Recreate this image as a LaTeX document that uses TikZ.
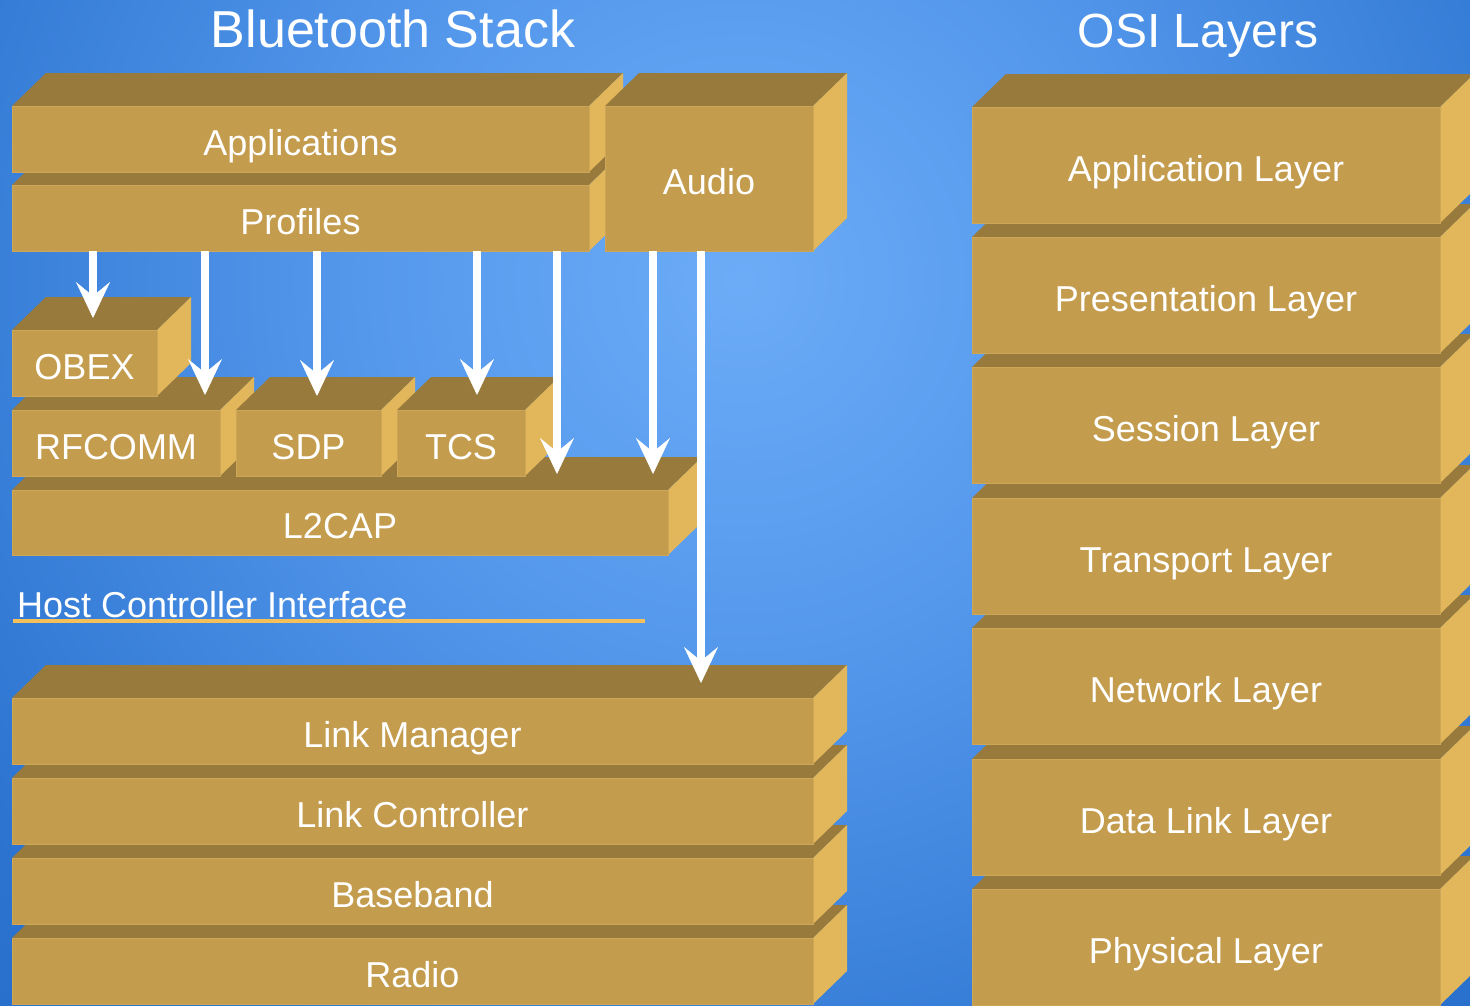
\documentclass[tikz,border=0pt]{standalone}
\usepackage{fontspec}
\setmainfont{Liberation Sans}
\usetikzlibrary{arrows.meta}
\definecolor{frontc}{RGB}{196,156,78}
\definecolor{topc}{RGB}{151,122,60}
\definecolor{sidec}{RGB}{226,182,90}
\definecolor{edgec}{RGB}{206,166,88}
\definecolor{hcic}{RGB}{245,192,90}
\definecolor{bgA}{RGB}{108,172,247}
\definecolor{bgB}{RGB}{84,152,236}
\definecolor{bgC}{RGB}{44,116,208}
\definecolor{bgD}{RGB}{28,94,190}
\pgfdeclareradialshading{bgrad}{\pgfpoint{0bp}{0bp}}{color(0bp)=(bgA); color(5bp)=(bgB); color(12bp)=(bgC); color(21bp)=(bgD); color(50bp)=(bgD)}
\newcommand\bxdx{34}
\newcommand\bxdy{33}
\tikzset{
  topface/.style={fill=topc},
  sideface/.style={fill=sidec},
  blkfront/.style={draw=edgec, line width=1pt, fill=frontc, inner sep=0pt, outer sep=0pt,
    text=white, font=\fontsize{36}{40}\selectfont, text height=32pt, text depth=0pt},
  ttl/.style={text=white, inner sep=0pt, anchor=base},
  hcilbl/.style={text=white, inner sep=0pt, anchor=base west, font=\fontsize{36}{40}\selectfont},
  hciline/.style={draw=hcic, line width=4pt},
  arr/.style={draw=white, line width=8pt, -{Stealth[length=36pt,width=34pt,inset=14pt,line width=0.5pt]}}
}
% #1 name, #2 left x, #3 top y, #4 right x, #5 bottom y, #6 text
\newcommand\boxblk[6]{%
  \fill[topface] (#2,#3) -- ({#2+\bxdx},{#3-\bxdy}) -- ({#4+\bxdx},{#3-\bxdy}) -- (#4,#3) -- cycle;
  \fill[sideface] (#4,#3) -- ({#4+\bxdx},{#3-\bxdy}) -- ({#4+\bxdx},{#5-\bxdy}) -- (#4,#5) -- cycle;
  \node[blkfront, minimum width={(#4-#2)*1pt}, minimum height={(#5-#3)*1pt}] (#1) at ({(#2+#4)/2},{(#3+#5)/2}) {#6};
}
\begin{document}
\begin{tikzpicture}[x=1pt,y=-1pt]
\useasboundingbox (0,0) rectangle (1470,1005);
\clip (0,0) rectangle (1470,1005);
\shade[shading=bgrad] (-1160,-1620) rectangle (2640,2180);

% titles
\node[ttl, font=\fontsize{52}{56}\selectfont] (title1) at (393,47) {Bluetooth Stack};
\node[ttl, font=\fontsize{48}{52}\selectfont] (title2) at (1198,47) {OSI Layers};

% Bluetooth stack, upper part
\boxblk{l2cap}{12}{490}{668}{555}{L2CAP}
\boxblk{rfcomm}{12}{410}{220}{476}{RFCOMM}
\boxblk{sdp}{236}{410}{381}{476}{SDP}
\boxblk{tcs}{397}{410}{525}{476}{TCS}
\boxblk{obex}{12}{330}{157}{396}{OBEX}
\boxblk{profiles}{12}{185}{589}{251}{Profiles}
\boxblk{apps}{12}{106}{589}{172}{Applications}
\boxblk{audio}{605}{106}{813}{251}{Audio}

% Host controller interface
\coordinate (hciA) at (13,621);
\coordinate (hciB) at (645,621);
\draw[hciline] (hciA) -- (hciB);
\node[hcilbl] (hci) at (17,617) {Host Controller Interface};

% Bluetooth stack, lower part
\boxblk{radio}{12}{938}{813}{1004}{Radio}
\boxblk{baseband}{12}{858}{813}{924}{Baseband}
\boxblk{lc}{12}{778}{813}{844}{Link Controller}
\boxblk{lm}{12}{698}{813}{764}{Link Manager}

% OSI layers
\boxblk{phy}{972}{889}{1440}{1005}{Physical Layer}
\boxblk{dll}{972}{759}{1440}{875}{Data Link Layer}
\boxblk{net}{972}{628}{1440}{744}{Network Layer}
\boxblk{trn}{972}{498}{1440}{614}{Transport Layer}
\boxblk{ses}{972}{367}{1440}{483}{Session Layer}
\boxblk{pre}{972}{237}{1440}{353}{Presentation Layer}
\boxblk{app}{972}{107}{1440}{223}{Application Layer}

% arrows
\coordinate (tipA) at (93,318);
\coordinate (tipB) at (205,395);
\coordinate (tipC) at (317,396);
\coordinate (tipD) at (477,395);
\coordinate (tipE) at (557,474);
\coordinate (tipF) at (653,474);
\coordinate (tipG) at (701,683);
\draw[arr] (profiles.south -| tipA) -- (tipA);
\draw[arr] (profiles.south -| tipB) -- (tipB);
\draw[arr] (profiles.south -| tipC) -- (tipC);
\draw[arr] (profiles.south -| tipD) -- (tipD);
\draw[arr] (profiles.south -| tipE) -- (tipE);
\draw[arr] (audio.south -| tipF) -- (tipF);
\draw[arr] (audio.south -| tipG) -- (tipG);
\end{tikzpicture}
\end{document}
